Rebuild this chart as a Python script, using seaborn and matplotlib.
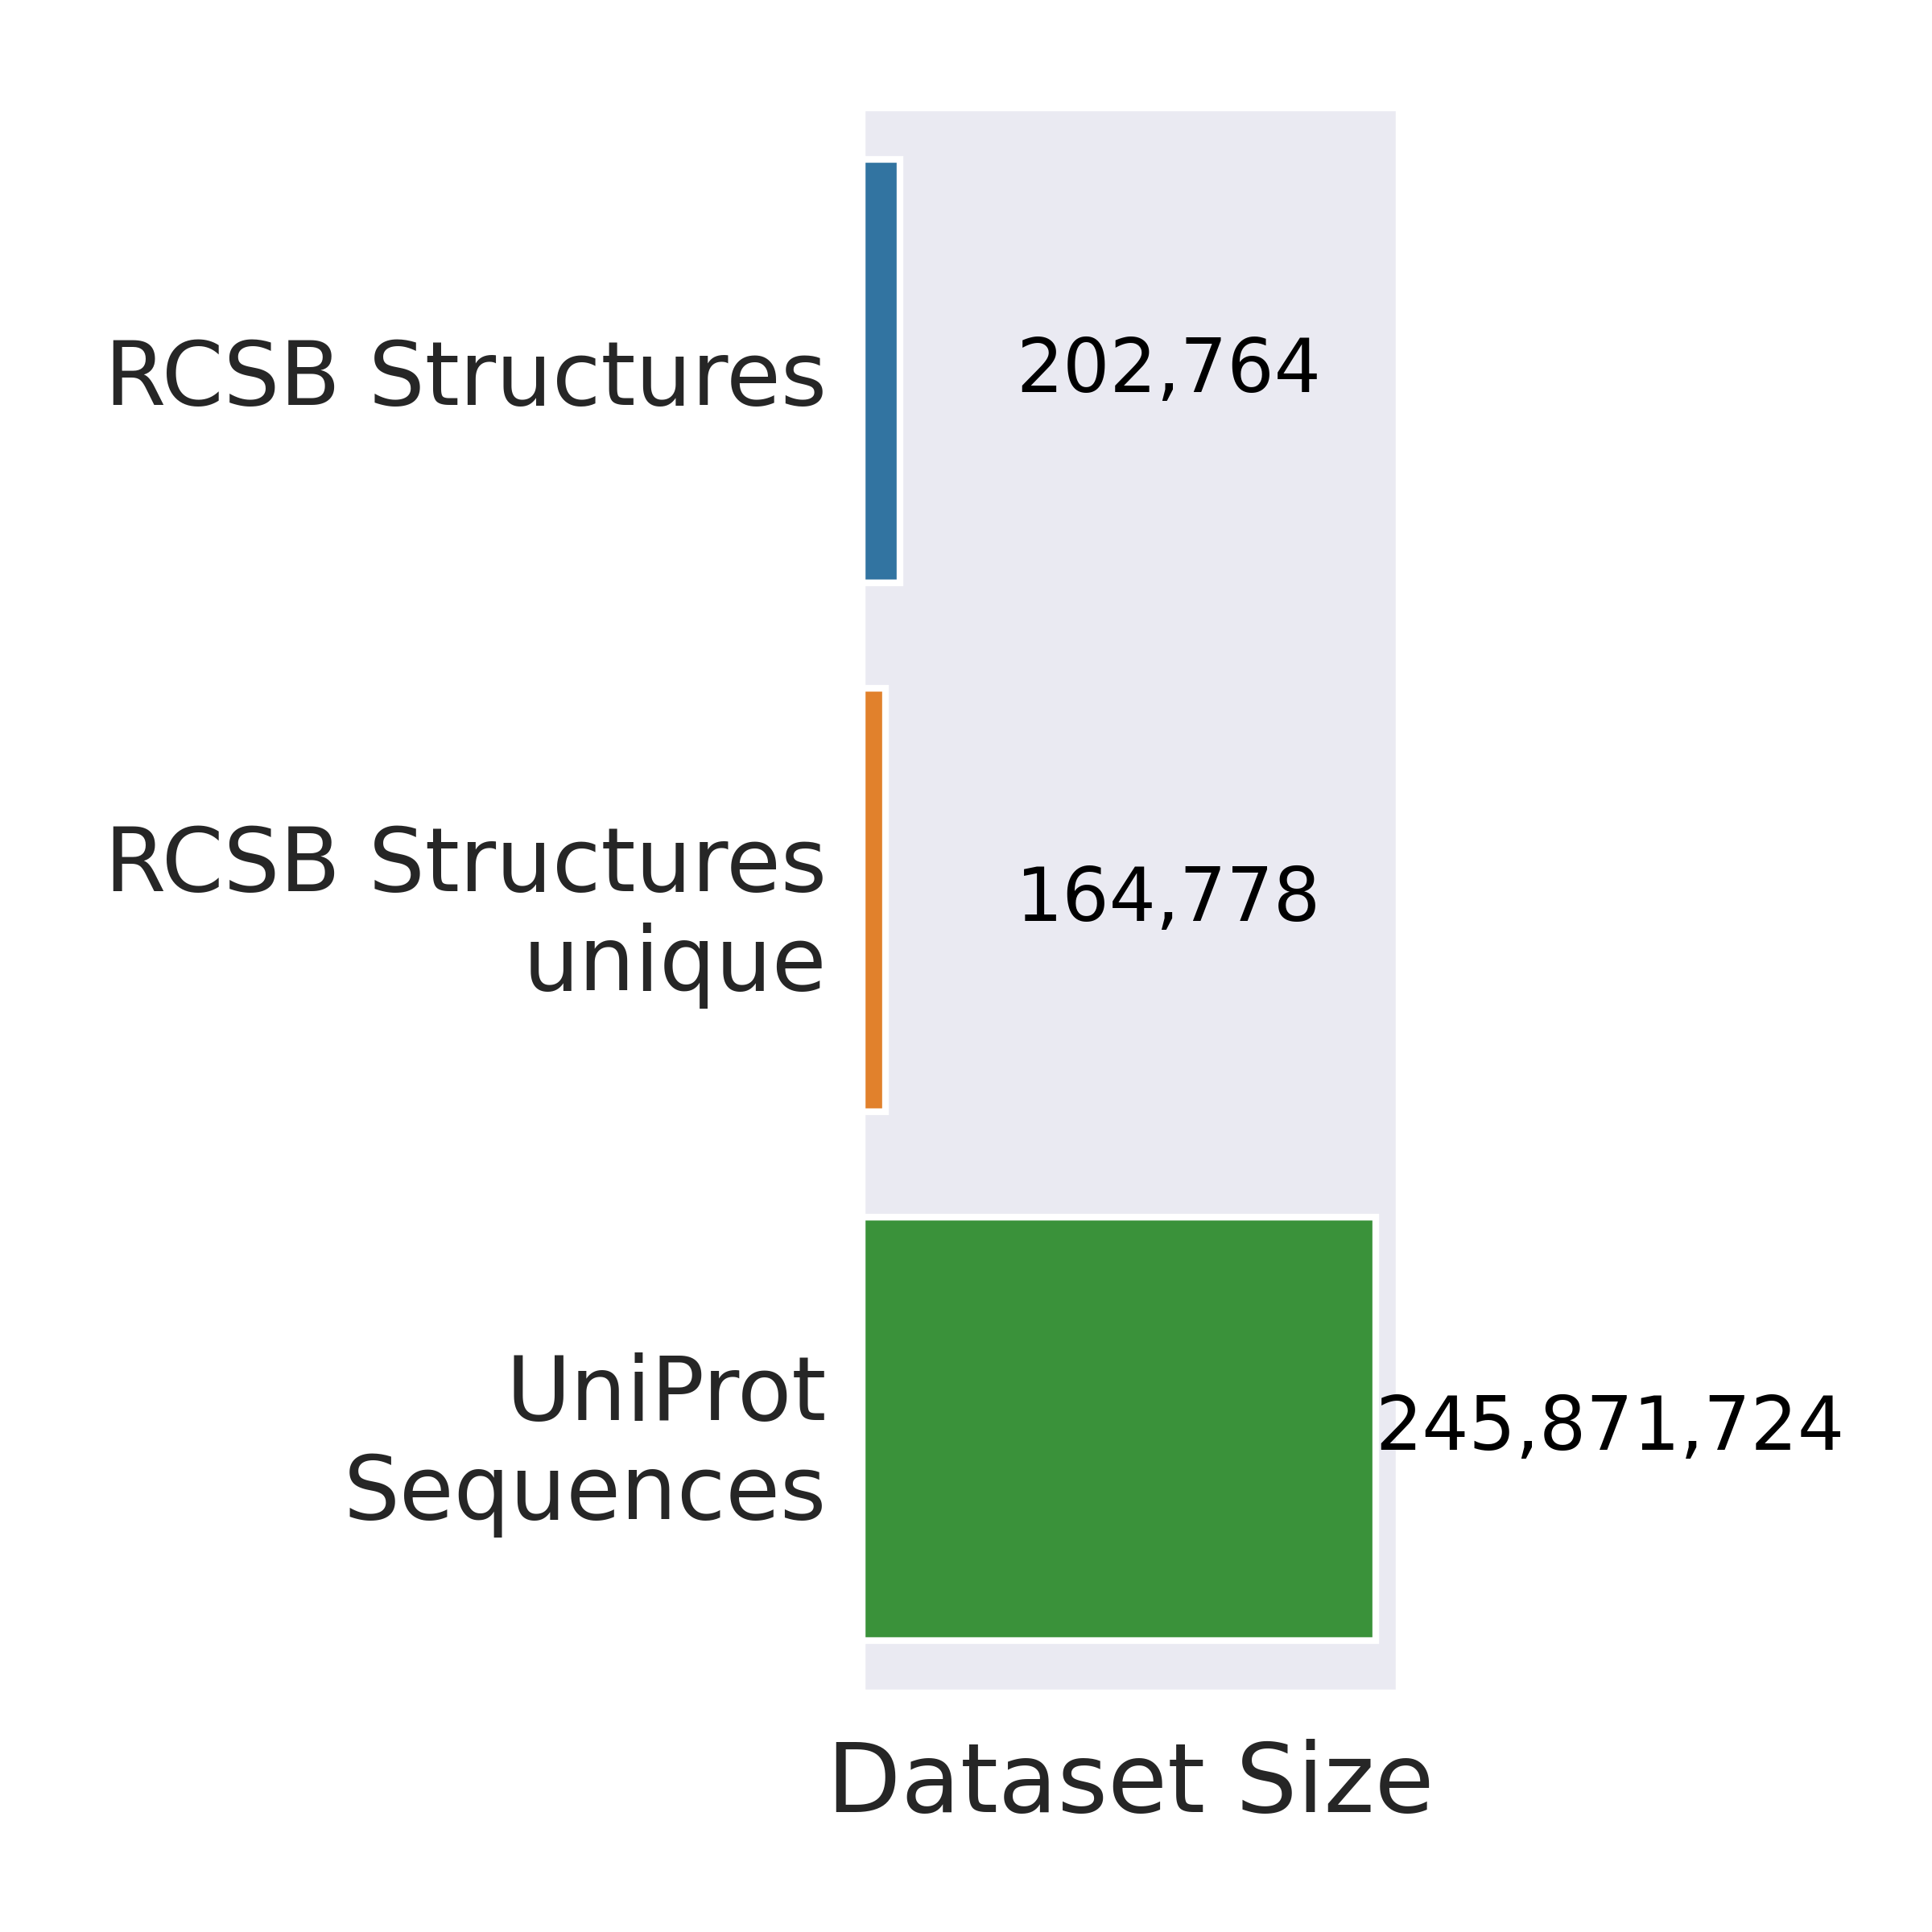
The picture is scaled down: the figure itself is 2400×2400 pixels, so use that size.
import matplotlib
matplotlib.use("Agg")
import matplotlib.pyplot as plt
import seaborn as sns
import pandas as pd

# dataset sizes
datasets = ["RCSB Structures", "RCSB Structures\nunique", "UniProt\nSequences"]
sizes = [202764, 164778, 245871724]

df = pd.DataFrame({"Dataset": datasets, "Size": sizes})

sns.set_theme(style="darkgrid", context="poster", font_scale=1.2)

fig, ax = plt.subplots(figsize=(8, 8), dpi=300)
sns.barplot(
    data=df, y="Dataset", x="Size", hue="Dataset", palette="tab10",
    saturation=0.75, edgecolor="white", linewidth=2, ax=ax, legend=False,
)
ax.set_xscale("log")

# value labels: small bars get a label in the free space, big bar right after its end
for i, v in enumerate(sizes):
    if v < 1e7:
        ax.text(1.12e7, i, f"{v:,}", ha="center", va="center", fontsize=22, color="black")
    else:
        ax.text(v, i, f"{v:,}", ha="left", va="center", fontsize=22, color="black")

ax.set_xticks([])
ax.set_xticks([], minor=True)
ax.grid(False)
ax.tick_params(axis="y", length=0, pad=10.3)
ax.set_xlabel("Dataset Size", labelpad=13.5)
ax.set_ylabel("")

plt.subplots_adjust(left=0.4458, right=0.7246, top=0.9447, bottom=0.1235)
plt.savefig("out.png", dpi=300)
